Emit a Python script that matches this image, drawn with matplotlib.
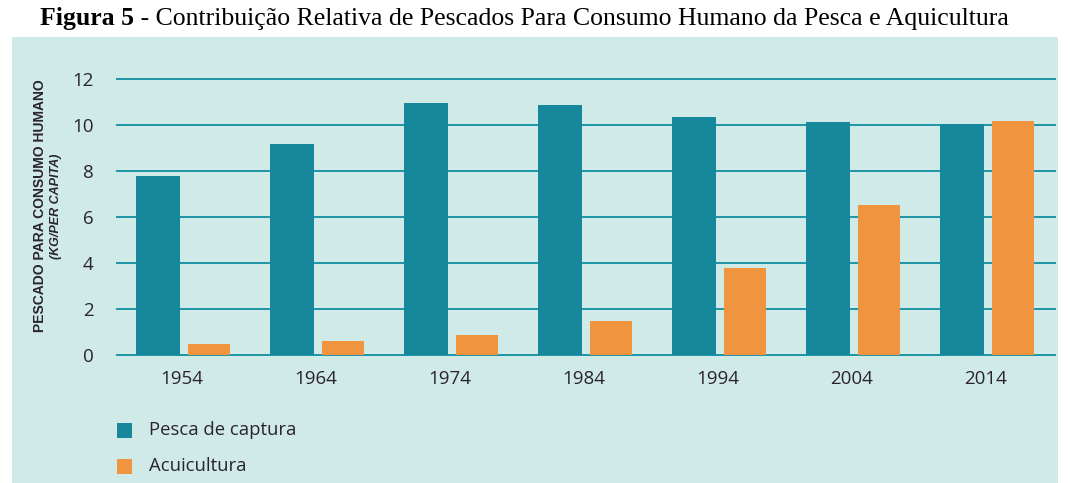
import numpy as np
import matplotlib.pyplot as plt
from matplotlib.patches import Rectangle

anos = ['1954', '1964', '1974', '1984', '1994', '2004', '2014']
pesca_captura = [7.78, 9.17, 10.96, 10.87, 10.35, 10.13, 10.03]
aquicultura = [0.48, 0.60, 0.87, 1.48, 3.78, 6.52, 10.17]
y_ticks = [0, 2, 4, 6, 8, 10, 12]

cor_fundo = '#d0eae8'
cor_teal = '#17889b'
cor_laranja = '#f0943f'
cor_grade = '#1d95a6'
cor_texto = '#2a2333'

W, H = 1070, 483
fig = plt.figure(figsize=(W / 100, H / 100), dpi=100)
fig.patch.set_facecolor('white')

# caixa de fundo
fig.patches.append(Rectangle((12 / W, 0), (1058 - 12) / W, 1 - 37 / H,
                             transform=fig.transFigure, facecolor=cor_fundo,
                             edgecolor='none', zorder=-5))

ax = fig.add_axes([117 / W, (H - 355) / H, (1055 - 117) / W, (355 - 79) / H])
ax.set_facecolor('none')
ax.set_zorder(2)

x = np.arange(len(anos))
ax.bar(x - 0.181, pesca_captura, width=0.325, color=cor_teal, zorder=3)
ax.bar(x + 0.203, aquicultura, width=0.313, color=cor_laranja, zorder=3)

ax.set_xlim(-0.485, len(anos) - 0.485)
ax.set_ylim(0, 12)
ax.set_yticks(y_ticks)
ax.set_xticks(x)
ax.set_xticklabels(anos)
for s in ax.spines.values():
    s.set_visible(False)
for v in y_ticks:
    ax.axhline(v, color=cor_grade, lw=1.4, zorder=1, clip_on=False)
ax.tick_params(axis='both', length=0, colors=cor_texto, labelsize=13.5)
ax.tick_params(axis='y', pad=17)
ax.tick_params(axis='x', pad=11)
for lab in ax.get_xticklabels() + ax.get_yticklabels():
    lab.set_fontfamily('Open Sans')
    lab.set_color(cor_texto)

# rótulo do eixo y
fig.text(40 / W, 1 - 206 / H, 'PESCADO PARA CONSUMO HUMANO', rotation=90,
         ha='center', va='center', fontsize=10, fontweight='bold',
         family='Liberation Sans', color=cor_texto)
fig.text(56 / W, 1 - 206 / H, '(KG/PER CAPITA)', rotation=90,
         ha='center', va='center', fontsize=9, fontweight='bold', style='italic',
         family='Liberation Sans', color=cor_texto)

# legenda
legenda = [('Pesca de captura', cor_teal, 430), ('Acuicultura', cor_laranja, 466)]
for nome, cor, yc in legenda:
    fig.patches.append(Rectangle((117 / W, 1 - (yc + 7.5) / H), 15 / W, 15 / H,
                                 transform=fig.transFigure, facecolor=cor,
                                 edgecolor='none', zorder=2))
    fig.text(149 / W, 1 - yc / H, nome, ha='left', va='center', fontsize=13.3,
             family='Open Sans', color=cor_texto)

# título
t1 = fig.text(40 / W, 1 - 19 / H, 'Figura 5', ha='left', va='center',
              fontsize=18.5, fontweight='bold', family='Liberation Serif')
fig.canvas.draw()
bb = t1.get_window_extent()
fig.text(bb.x1 / W, 1 - 19 / H,
         ' - Contribuição Relativa de Pescados Para Consumo Humano da Pesca e Aquicultura',
         ha='left', va='center', fontsize=18.5, family='Liberation Serif')

fig.savefig('out.png', dpi=100, facecolor='white')
